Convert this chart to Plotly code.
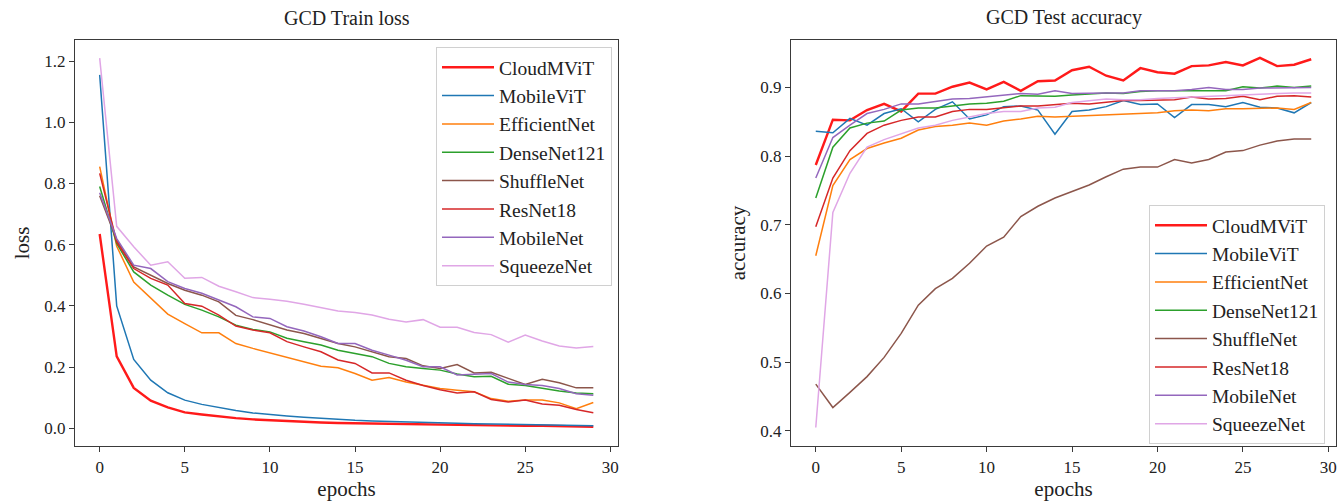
import plotly.graph_objects as go

epochs = list(range(30))

models = ["CloudMViT", "MobileViT", "EfficientNet", "DenseNet121",
          "ShuffleNet", "ResNet18", "MobileNet", "SqueezeNet"]

# Training loss per epoch
loss_cloudmvit = [0.635, 0.235, 0.132, 0.090, 0.068, 0.052, 0.045, 0.038, 0.033, 0.029,
                  0.026, 0.023, 0.021, 0.019, 0.017, 0.016, 0.015, 0.014, 0.013, 0.012,
                  0.011, 0.010, 0.010, 0.009, 0.009, 0.008, 0.008, 0.007, 0.006, 0.005]
loss_mobilevit = [1.155, 0.400, 0.225, 0.157, 0.116, 0.092, 0.078, 0.067, 0.058, 0.050,
                  0.044, 0.040, 0.036, 0.032, 0.029, 0.026, 0.024, 0.022, 0.020, 0.019,
                  0.017, 0.016, 0.015, 0.014, 0.013, 0.012, 0.011, 0.010, 0.009, 0.008]
loss_efficientnet = [0.855, 0.595, 0.478, 0.424, 0.373, 0.342, 0.312, 0.312, 0.277, 0.261,
                     0.246, 0.233, 0.217, 0.203, 0.198, 0.179, 0.157, 0.166, 0.151, 0.140,
                     0.130, 0.124, 0.119, 0.097, 0.088, 0.092, 0.092, 0.083, 0.064, 0.084]
loss_densenet121 = [0.790, 0.604, 0.511, 0.468, 0.435, 0.405, 0.386, 0.364, 0.337, 0.323,
                    0.315, 0.294, 0.283, 0.272, 0.255, 0.245, 0.234, 0.212, 0.201, 0.195,
                    0.190, 0.177, 0.168, 0.170, 0.144, 0.140, 0.130, 0.122, 0.115, 0.113]
loss_shufflenet = [0.760, 0.615, 0.527, 0.500, 0.473, 0.451, 0.435, 0.413, 0.369, 0.355,
                   0.337, 0.321, 0.310, 0.294, 0.277, 0.266, 0.250, 0.234, 0.228, 0.204,
                   0.195, 0.208, 0.181, 0.183, 0.163, 0.143, 0.160, 0.149, 0.132, 0.132]
loss_resnet18 = [0.833, 0.609, 0.522, 0.490, 0.468, 0.408, 0.399, 0.370, 0.334, 0.321,
                 0.312, 0.283, 0.266, 0.250, 0.223, 0.212, 0.181, 0.181, 0.157, 0.140,
                 0.126, 0.115, 0.119, 0.094, 0.086, 0.092, 0.079, 0.075, 0.061, 0.051]
loss_mobilenet = [0.770, 0.620, 0.533, 0.522, 0.479, 0.457, 0.441, 0.419, 0.397, 0.364,
                  0.359, 0.332, 0.318, 0.299, 0.277, 0.277, 0.255, 0.239, 0.222, 0.201,
                  0.201, 0.174, 0.177, 0.179, 0.151, 0.143, 0.140, 0.130, 0.113, 0.108]
loss_squeezenet = [1.210, 0.660, 0.593, 0.533, 0.544, 0.490, 0.493, 0.464, 0.446, 0.427,
                   0.422, 0.415, 0.405, 0.395, 0.383, 0.378, 0.370, 0.356, 0.347, 0.355,
                   0.330, 0.330, 0.313, 0.306, 0.281, 0.305, 0.285, 0.269, 0.262, 0.267]

# Test accuracy per epoch
acc_cloudmvit = [0.787, 0.853, 0.852, 0.867, 0.876, 0.865, 0.891, 0.891, 0.901, 0.907,
                 0.897, 0.908, 0.895, 0.909, 0.910, 0.925, 0.930, 0.917, 0.910, 0.928,
                 0.922, 0.920, 0.931, 0.932, 0.937, 0.932, 0.943, 0.931, 0.933, 0.941]
acc_mobilevit = [0.836, 0.834, 0.855, 0.845, 0.862, 0.869, 0.850, 0.868, 0.879, 0.854,
                 0.860, 0.872, 0.873, 0.867, 0.832, 0.865, 0.867, 0.872, 0.881, 0.875,
                 0.876, 0.856, 0.875, 0.875, 0.872, 0.878, 0.871, 0.870, 0.863, 0.878]
acc_efficientnet = [0.655, 0.757, 0.795, 0.811, 0.819, 0.826, 0.838, 0.843, 0.845, 0.848,
                    0.845, 0.851, 0.854, 0.858, 0.857, 0.858, 0.860, 0.861, 0.861, 0.862,
                    0.863, 0.866, 0.867, 0.866, 0.869, 0.869, 0.870, 0.870, 0.868, 0.878]
acc_densenet121 = [0.739, 0.813, 0.841, 0.848, 0.851, 0.867, 0.870, 0.870, 0.873, 0.876,
                   0.877, 0.880, 0.888, 0.887, 0.887, 0.889, 0.891, 0.892, 0.891, 0.894,
                   0.895, 0.895, 0.896, 0.896, 0.895, 0.901, 0.899, 0.902, 0.900, 0.902]
acc_shufflenet = [0.468, 0.434, 0.456, 0.479, 0.507, 0.542, 0.583, 0.607, 0.622, 0.644,
                  0.669, 0.682, 0.712, 0.727, 0.739, 0.748, 0.758, 0.770, 0.781, 0.784,
                  0.784, 0.795, 0.790, 0.795, 0.806, 0.808, 0.816, 0.822, 0.825, 0.825]
acc_resnet18 = [0.697, 0.768, 0.808, 0.833, 0.845, 0.852, 0.857, 0.857, 0.865, 0.868,
                0.868, 0.870, 0.873, 0.873, 0.875, 0.877, 0.876, 0.879, 0.881, 0.881,
                0.882, 0.882, 0.886, 0.883, 0.884, 0.887, 0.882, 0.887, 0.888, 0.886]
acc_mobilenet = [0.768, 0.827, 0.845, 0.862, 0.868, 0.876, 0.876, 0.879, 0.883, 0.884,
                 0.886, 0.888, 0.891, 0.890, 0.895, 0.891, 0.892, 0.892, 0.892, 0.895,
                 0.895, 0.895, 0.897, 0.900, 0.897, 0.897, 0.899, 0.899, 0.900, 0.900]
acc_squeezenet = [0.405, 0.718, 0.775, 0.813, 0.824, 0.832, 0.841, 0.845, 0.852, 0.857,
                  0.862, 0.865, 0.865, 0.870, 0.871, 0.878, 0.881, 0.883, 0.882, 0.882,
                  0.884, 0.885, 0.887, 0.887, 0.888, 0.889, 0.891, 0.892, 0.892, 0.892]

loss_series = [loss_cloudmvit, loss_mobilevit, loss_efficientnet, loss_densenet121,
               loss_shufflenet, loss_resnet18, loss_mobilenet, loss_squeezenet]
acc_series = [acc_cloudmvit, acc_mobilevit, acc_efficientnet, acc_densenet121,
              acc_shufflenet, acc_resnet18, acc_mobilenet, acc_squeezenet]

colors = ["#ff1a1a", "#1f77b4", "#ff7f0e", "#2ca02c",
          "#8c564b", "#d62728", "#9467bd", "#e0a6e6"]
widths = [2.4, 1.5, 1.5, 1.5, 1.5, 1.5, 1.5, 1.5]

FONT = "Liberation Serif, Times New Roman, serif"
W, H = 1338, 502

fig = go.Figure()

for name, ys, c, w in zip(models, loss_series, colors, widths):
    fig.add_trace(go.Scatter(x=epochs, y=ys, mode="lines", name=name,
                             line=dict(color=c, width=w),
                             xaxis="x", yaxis="y", legend="legend"))
for name, ys, c, w in zip(models, acc_series, colors, widths):
    fig.add_trace(go.Scatter(x=epochs, y=ys, mode="lines", name=name,
                             line=dict(color=c, width=w),
                             xaxis="x2", yaxis="y2", legend="legend2"))

ydom = [56 / H, 462 / H]
axis_common = dict(showline=True, linecolor="#3a3a3a", linewidth=1.3, mirror=True,
                   ticks="outside", ticklen=5, tickcolor="#3a3a3a", tickwidth=1.2,
                   showgrid=False, zeroline=False,
                   tickfont=dict(family=FONT, size=17, color="#222"))

legend_common = dict(font=dict(family=FONT, size=19.5, color="#222"),
                     bgcolor="rgba(255,255,255,0.9)", bordercolor="#d0d0d0", borderwidth=1,
                     xanchor="right", yanchor="top", itemwidth=52, tracegroupgap=0)

title_font = dict(family=FONT, size=21, color="#222")

fig.update_layout(
    width=W, height=H,
    margin=dict(l=0, r=0, t=0, b=0),
    paper_bgcolor="white", plot_bgcolor="white",
    font=dict(family=FONT, color="#222"),
    xaxis=dict(domain=[75 / W, 618 / W], range=[-1.45, 30.45], tickvals=[0, 5, 10, 15, 20, 25, 30],
               anchor="y", title=dict(text="epochs", font=title_font, standoff=3),
               **axis_common),
    yaxis=dict(domain=ydom, range=[-0.058, 1.269], tickvals=[0.0, 0.2, 0.4, 0.6, 0.8, 1.0, 1.2],
               tickformat=".1f", anchor="x", title=dict(text="loss", font=title_font, standoff=8),
               **axis_common),
    xaxis2=dict(domain=[791 / W, 1336 / W], range=[-1.45, 30.45], tickvals=[0, 5, 10, 15, 20, 25, 30],
                anchor="y2", title=dict(text="epochs", font=title_font, standoff=3),
                **axis_common),
    yaxis2=dict(domain=ydom, range=[0.378, 0.969], tickvals=[0.4, 0.5, 0.6, 0.7, 0.8, 0.9],
                tickformat=".1f", anchor="x2", title=dict(text="accuracy", font=title_font, standoff=8),
                **axis_common),
    legend=dict(x=612 / W, y=1 - 47 / H, **legend_common),
    legend2=dict(x=1325 / W, y=1 - 205 / H, **legend_common),
    showlegend=True,
    annotations=[
        dict(text="GCD Train loss", x=(75 + 618) / 2 / W, y=1 - 18 / H, xref="paper", yref="paper",
             xanchor="center", yanchor="middle", showarrow=False,
             font=dict(family=FONT, size=20, color="#222")),
        dict(text="GCD Test accuracy", x=(791 + 1336) / 2 / W, y=1 - 18 / H, xref="paper", yref="paper",
             xanchor="center", yanchor="middle", showarrow=False,
             font=dict(family=FONT, size=20, color="#222")),
    ],
)

fig.write_html("out.html")
